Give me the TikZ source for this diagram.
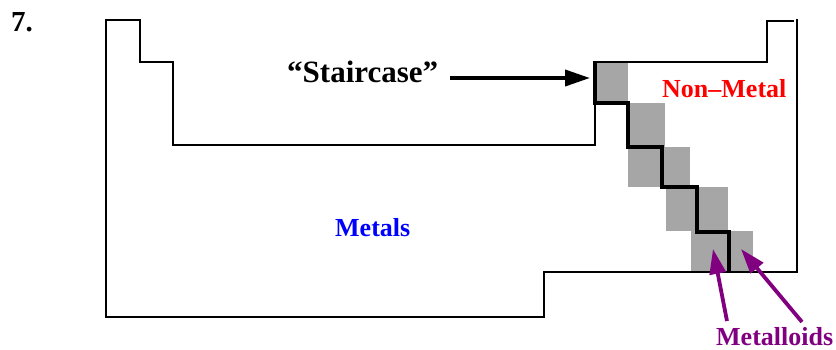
\documentclass[tikz,border=0pt]{standalone}
\usepackage{fontspec}
\setmainfont{Liberation Serif}
\usetikzlibrary{arrows.meta}
\definecolor{cellgray}{RGB}{166,166,166}
\definecolor{mpurple}{RGB}{128,0,128}
\tikzset{
  outline/.style={line width=1.8pt, black},
  stairline/.style={line width=4.6pt, black, line join=miter},
  cell/.style={fill=cellgray, draw=none},
  lbl/.style={anchor=base west, inner sep=0pt, font=\bfseries},
  bigarrow/.style={line width=3.8pt, -{Triangle[length=25pt,width=16pt]}},
}
\begin{document}
\begin{tikzpicture}[x=1pt,y=-1pt]
\useasboundingbox (0,0) rectangle (836,349);
% gray metalloid cells
\fill[cell] (595,62) rectangle (628,103);
\fill[cell] (628,103) rectangle (665,147);
\fill[cell] (628,147) rectangle (690,187);
\fill[cell] (666,187) rectangle (728,231);
\fill[cell] (691,231) rectangle (753,272);
% outline of the table
\draw[outline] (794,21) -- (767,21) -- (767,62) -- (595,62) -- (595,145) -- (173,145)
  -- (173,62) -- (140,62) -- (140,20) -- (106,20) -- (106,317) -- (544,317)
  -- (544,272) -- (797,272) -- (797,19);
% staircase
\draw[stairline] (595,61) -- (595,103) -- (628,103) -- (628,147) -- (662,147)
  -- (662,187) -- (697,187) -- (697,232) -- (729,232) -- (729,272);
% labels
\node[lbl, font=\bfseries\fontsize{29}{34}\selectfont] (num) at (11,31) {7.};
\node[lbl, font=\bfseries\fontsize{31}{37}\selectfont] (stair) at (287,82) {“Staircase”};
\node[lbl, font=\bfseries\fontsize{26}{31}\selectfont, text=red] (nonmetal) at (662,97) {Non–Metal};
\node[lbl, font=\bfseries\fontsize{26}{31}\selectfont, text=blue] (metals) at (335,236) {Metals};
\node[lbl, font=\bfseries\fontsize{26}{31}\selectfont, text=mpurple] (metalloids) at (716,345) {Metalloids};
% arrows
\coordinate (sa) at (450,78);
\coordinate (se) at (590,78);
\draw[bigarrow] (sa) -- (se);
\coordinate (m1s) at (727,321);
\coordinate (m1e) at (713,249);
\coordinate (m2s) at (802,322);
\coordinate (m2e) at (741,249);
\draw[bigarrow, mpurple] (m1s) -- (m1e);
\draw[bigarrow, mpurple] (m2s) -- (m2e);
\end{tikzpicture}
\end{document}
